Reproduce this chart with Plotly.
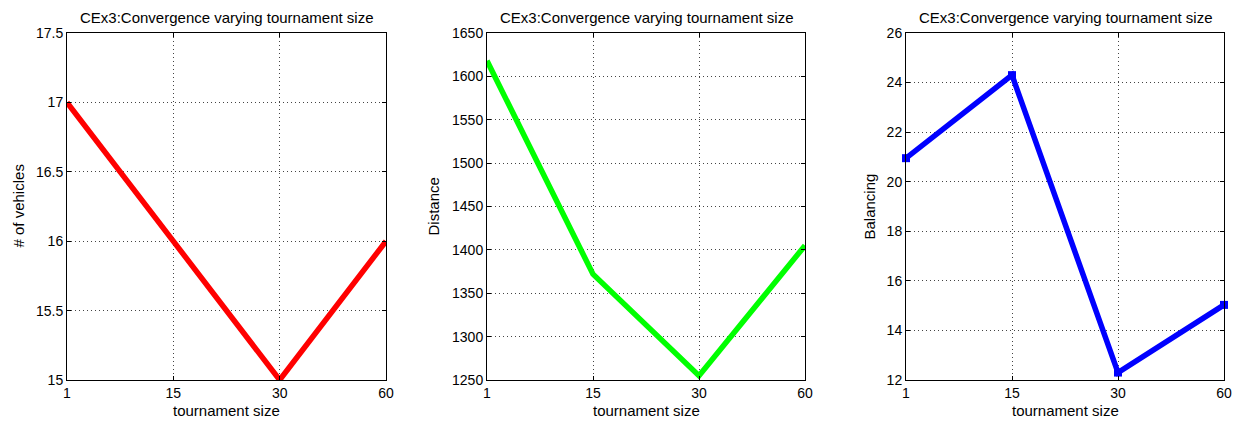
import plotly.graph_objects as go

# Tournament sizes tested (plotted at evenly spaced positions)
tournament_sizes = ["1", "15", "30", "60"]
positions = [1, 2, 3, 4]

# Results per tournament size
vehicles = [17, 16, 15, 16]
distance = [1618, 1372, 1255, 1405]
balancing = [20.95, 24.3, 12.3, 15.03]

title_text = "CEx3:Convergence varying tournament size"
font_family = "Liberation Sans, Arial, sans-serif"

W, H = 1243, 421
top_px, bottom_px = 33, 380
panels = [
    dict(x0=67, x1=386, y=vehicles, color="#ff0000", ylabel="# of vehicles",
         yrange=[15, 17.5], dtick=0.5, ylab_x=18, markers=False),
    dict(x0=487, x1=805, y=distance, color="#00ff00", ylabel="Distance",
         yrange=[1250, 1650], dtick=50, ylab_x=433, markers=False),
    dict(x0=906, x1=1224, y=balancing, color="#0000ff", ylabel="Balancing",
         yrange=[12, 26], dtick=2, ylab_x=869, markers=True),
]

fig = go.Figure()
annotations = []
ydom = [1 - bottom_px / H, 1 - top_px / H]

for i, p in enumerate(panels, start=1):
    xa = "x" if i == 1 else f"x{i}"
    ya = "y" if i == 1 else f"y{i}"
    fig.add_trace(go.Scatter(
        x=positions, y=p["y"], xaxis=xa, yaxis=ya,
        mode="lines+markers" if p["markers"] else "lines",
        line=dict(color=p["color"], width=5.5),
        marker=dict(symbol="square", size=8, color=p["color"]),
        cliponaxis=False, showlegend=False,
    ))
    axis_common = dict(
        showline=True, linecolor="black", linewidth=1, mirror="ticks",
        ticks="inside", ticklen=4, tickcolor="black", automargin=False,
        showgrid=True, gridcolor="#444444", griddash="1px,3px", gridwidth=1,
        zeroline=False, tickfont=dict(family=font_family, size=14, color="black"),
    )
    fig.layout[("xaxis" if i == 1 else f"xaxis{i}")] = dict(
        domain=[p["x0"] / W, p["x1"] / W], anchor=ya,
        range=[1, 4], tickvals=positions, ticktext=tournament_sizes,
        **axis_common,
    )
    fig.layout[("yaxis" if i == 1 else f"yaxis{i}")] = dict(
        domain=ydom, anchor=xa, range=p["yrange"], dtick=p["dtick"],
        **axis_common,
    )
    cx = (p["x0"] + p["x1"]) / 2 / W
    annotations.append(dict(
        text=title_text, x=cx, y=1 - 17 / H, xref="paper", yref="paper",
        showarrow=False, xanchor="center", yanchor="middle",
        font=dict(family=font_family, size=15, color="black"),
    ))
    annotations.append(dict(
        text="tournament size", x=cx, y=1 - 410 / H, xref="paper", yref="paper",
        showarrow=False, xanchor="center", yanchor="middle",
        font=dict(family=font_family, size=15, color="black"),
    ))
    annotations.append(dict(
        text=p["ylabel"], x=p["ylab_x"] / W, y=(ydom[0] + ydom[1]) / 2,
        xref="paper", yref="paper", showarrow=False, textangle=-90,
        xanchor="center", yanchor="middle",
        font=dict(family=font_family, size=15, color="black"),
    ))

fig.update_layout(
    width=W, height=H, margin=dict(l=0, r=0, t=0, b=0),
    paper_bgcolor="white", plot_bgcolor="white",
    annotations=annotations,
)

fig.write_html("out.html")
